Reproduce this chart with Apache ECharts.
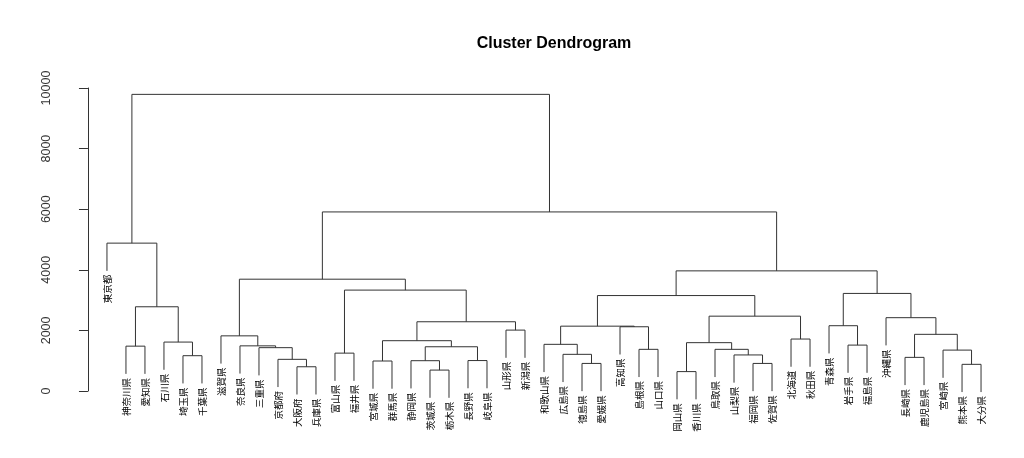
<!DOCTYPE html>
<html>
<head>
<meta charset="utf-8">
<script src="https://cdn.jsdelivr.net/npm/echarts@6/dist/echarts.min.js"></script>
<style>html,body{margin:0;padding:0;background:#fff}#c{width:1024px;height:458px}</style>
</head>
<body>
<div id="c"></div>
<script>
// Leaf labels in dendrogram order
var leafLabels = ['東京都','神奈川県','愛知県','石川県','埼玉県','千葉県','滋賀県','奈良県','三重県','京都府','大阪府','兵庫県',
  '富山県','福井県','宮城県','群馬県','静岡県','茨城県','栃木県','長野県','岐阜県','山形県','新潟県',
  '和歌山県','広島県','徳島県','愛媛県','高知県','島根県','山口県','岡山県','香川県','鳥取県','山梨県','福岡県','佐賀県','北海道','秋田県',
  '青森県','岩手県','福島県','沖縄県','長崎県','鹿児島県','宮崎県','熊本県','大分県'];
// Merge rows (R convention: negative = leaf position, positive = earlier merge row)
var mergeLeft  = [-5,-2,-4, 2,-1,-11,-10,-9,-8,-7,-13,-15,-18,-17,-20,14,12,-22,17,11,10,-26,-25,-24,-29,-28,24,-31,-35,-34,-33,28,-37,32,27,-40,-39,-46,-45,-43,40,-42,37,35,21,5];
var mergeRight = [-6,-3, 1, 3, 4,-12,  6, 7, 8, 9,-14,-16,-19, 13,-21,15,16,-23,18,19,20,-27, 22, 23,-30, 25,26,-32,-36, 29, 30,31,-38,33,34,-41, 36,-47, 38,-44,39, 41,42,43,44,45];
var mergeHeight = [1165,1480,1615,2780,4880,800,1045,1430,1490,1820,1250,990,690,1000,1005,1460,1660,2010,2285,3330,3690,
  910,1210,1540,1375,2120,2140,640,910,1190,1375,1595,1715,2470,3150,1515,2155,880,1350,1110,1870,2420,3220,3965,5910,9790];
var yTicks = [0,2000,4000,6000,8000,10000];

var hMax = Math.max.apply(null, mergeHeight), hMin = Math.min.apply(null, mergeHeight);
var hang = 0.1 * (hMax - hMin);
var nodeX = [], segData = [], leafData = [];
function childInfo(ref, h) {
  if (ref < 0) {
    var x = -ref;
    leafData.push([x, h - hang, leafLabels[x - 1]]);
    return {x: x, y: h - hang};
  }
  return {x: nodeX[ref - 1], y: mergeHeight[ref - 1]};
}
for (var i = 0; i < mergeHeight.length; i++) {
  var h = mergeHeight[i];
  var a = childInfo(mergeLeft[i], h), b = childInfo(mergeRight[i], h);
  nodeX.push((a.x + b.x) / 2);
  segData.push([a.x, a.y, b.x, b.y, h]);
}

var chart = echarts.init(document.getElementById('c'));
chart.setOption({
  animation: false,
  backgroundColor: '#fff',
  title: {text: 'Cluster Dendrogram', left: 549, top: 31, textAlign: 'center',
    textStyle: {fontFamily: 'Liberation Sans', fontWeight: 'bold', fontSize: 16, color: '#000'}},
  grid: {left: 72, right: 8, top: 88, bottom: 67},
  xAxis: {type: 'value', min: -0.84, max: 48.84, show: false},
  yAxis: {type: 'value', min: 0, max: 10000, interval: 2000,
    axisLine: {show: true, lineStyle: {color: '#333', width: 1}},
    axisTick: {show: true, length: 9, lineStyle: {color: '#333'}},
    splitLine: {show: false},
    axisLabel: {rotate: 90, fontSize: 12.5, color: '#333', fontFamily: 'Liberation Sans', margin: 19,
      formatter: function (v) { return yTicks.indexOf(v) >= 0 ? String(v) : ''; }}
  },
  series: [
    {type: 'custom', coordinateSystem: 'cartesian2d', data: segData, clip: false,
      renderItem: function (params, api) {
        var p1 = api.coord([api.value(0), api.value(1)]);
        var p2 = api.coord([api.value(0), api.value(4)]);
        var p3 = api.coord([api.value(2), api.value(4)]);
        var p4 = api.coord([api.value(2), api.value(3)]);
        return {type: 'polyline', shape: {points: [p1, p2, p3, p4]},
          style: {stroke: '#333', lineWidth: 1, fill: null}};
      }},
    {type: 'custom', coordinateSystem: 'cartesian2d', data: leafData, clip: false,
      renderItem: function (params, api) {
        var p = api.coord([api.value(0), api.value(1)]);
        return {type: 'text', x: p[0], y: p[1] + 4, rotation: Math.PI / 2,
          style: {text: leafLabels[api.value(0) - 1], fontSize: 9.5, fontFamily: 'Noto Sans CJK JP',
            fill: '#000', align: 'right', verticalAlign: 'middle'}};
      }}
  ]
});
</script>
</body>
</html>
